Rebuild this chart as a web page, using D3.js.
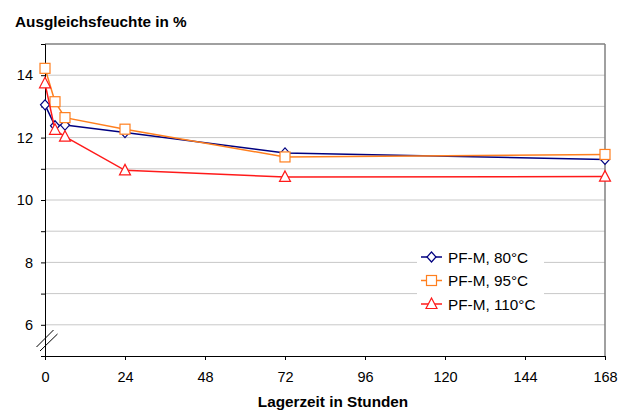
<!DOCTYPE html>
<html><head><meta charset="utf-8">
<script src="https://cdn.jsdelivr.net/npm/d3@7"></script>
<style>body{margin:0;background:#fff}svg{display:block}text{font-family:"Liberation Sans",Arial,sans-serif}</style>
</head><body><svg id="c" width="629" height="411"></svg>
<script>
const hours = [0, 3, 6, 24, 72, 168];
const s80 = [13.05, 12.38, 12.4, 12.16, 11.51, 11.3];
const s95 = [14.22, 13.15, 12.64, 12.27, 11.38, 11.46];
const s110 = [13.74, 12.25, 12.03, 10.95, 10.74, 10.75];
const seriesNames = ["PF-M, 80°C", "PF-M, 95°C", "PF-M, 110°C"];
const xTicks = [0, 24, 48, 72, 96, 120, 144, 168];
const yLabelTicks = [6, 8, 10, 12, 14];
const yAllTicks = [5, 6, 7, 8, 9, 10, 11, 12, 13, 14, 15];
const gridTicks = [6, 7, 8, 9, 10, 11, 12, 13, 14];
const yTitle = "Ausgleichsfeuchte in %";
const xTitle = "Lagerzeit in Stunden";

const svg = d3.select("#c");
const x = d3.scaleLinear().domain([0, 168]).range([45, 605]);
const y = d3.scaleLinear().domain([5, 15]).range([356, 44]);

svg.append("g").selectAll("line").data(gridTicks).join("line")
  .attr("x1", x(0)).attr("x2", x(168)).attr("y1", d => y(d)).attr("y2", d => y(d))
  .attr("stroke", "#c8c8c8").attr("stroke-width", 1);

svg.append("line").attr("x1", x(0)).attr("x2", x(168)).attr("y1", y(15)).attr("y2", y(15)).attr("stroke", "#808080").attr("stroke-width", 1.5);
svg.append("line").attr("x1", x(168)).attr("x2", x(168)).attr("y1", y(15)).attr("y2", y(5)).attr("stroke", "#808080").attr("stroke-width", 1.5);

const yAxis = d3.axisLeft(y).tickValues(yAllTicks).tickSize(4).tickPadding(8)
  .tickFormat(d => yLabelTicks.includes(d) ? d : "");
const gy = svg.append("g").attr("transform", `translate(${x(0)},0)`).call(yAxis);
gy.select(".domain").attr("stroke", "#000");
gy.selectAll("text").attr("font-size", 14.5).attr("fill", "#000").attr("font-family", "Liberation Sans, Arial, sans-serif");

const xAxis = d3.axisBottom(x).tickValues(xTicks).tickSize(4).tickPadding(12);
const gx = svg.append("g").attr("transform", `translate(0,${y(5)})`).call(xAxis);
gx.select(".domain").attr("stroke", "#000");
gx.selectAll("text").attr("font-size", 14.5).attr("fill", "#000").attr("font-family", "Liberation Sans, Arial, sans-serif");

svg.append("line").attr("x1", 36.5).attr("y1", 347).attr("x2", 53.5).attr("y2", 330).attr("stroke", "#000").attr("stroke-width", 1);
svg.append("line").attr("x1", 40).attr("y1", 351).attr("x2", 57.5).attr("y2", 334).attr("stroke", "#000").attr("stroke-width", 1);

const series = [
  {name: seriesNames[0], vals: s80, color: "#000080", shape: "diamond"},
  {name: seriesNames[1], vals: s95, color: "#ff7f1e", shape: "square"},
  {name: seriesNames[2], vals: s110, color: "#ff1a1a", shape: "triangle"}
];

function marker(g, shape, color) {
  if (shape === "diamond") {
    g.append("path").attr("d", "M0,-5L4.5,0L0,5L-4.5,0Z");
  } else if (shape === "square") {
    g.append("rect").attr("x", -5).attr("y", -5).attr("width", 10).attr("height", 10);
  } else {
    g.append("path").attr("d", "M0,-6L5.5,4.5L-5.5,4.5Z");
  }
  g.selectAll("path,rect").attr("fill", "#fff").attr("stroke", color).attr("stroke-width", 1.2);
}

const line = d3.line().x(d => x(d[0])).y(d => y(d[1]));
series.forEach(s => {
  const pts = hours.map((h, i) => [h, s.vals[i]]);
  svg.append("path").datum(pts).attr("d", line).attr("fill", "none").attr("stroke", s.color).attr("stroke-width", 1.5);
  pts.forEach(p => {
    const g = svg.append("g").attr("transform", `translate(${x(p[0])},${y(p[1])})`);
    marker(g, s.shape, s.color);
  });
});

const lg = svg.append("g");
lg.append("rect").attr("x", 417).attr("y", 245).attr("width", 127).attr("height", 66).attr("fill", "#fff");
series.forEach((s, i) => {
  const ly = 257 + i * 23.5;
  lg.append("line").attr("x1", 421).attr("x2", 442).attr("y1", ly).attr("y2", ly).attr("stroke", s.color).attr("stroke-width", 1.5);
  const g = lg.append("g").attr("transform", `translate(431.5,${ly})`);
  marker(g, s.shape, s.color);
  lg.append("text").attr("x", 448).attr("y", ly + 5.5).attr("font-size", 15.3).attr("fill", "#000").text(s.name);
});

svg.append("text").attr("x", 15).attr("y", 27).attr("font-size", 15.3).attr("font-weight", "bold").attr("fill", "#000").text(yTitle);
svg.append("text").attr("x", 333).attr("y", 407).attr("text-anchor", "middle").attr("font-size", 15.3).attr("font-weight", "bold").attr("fill", "#000").text(xTitle);
</script></body></html>
